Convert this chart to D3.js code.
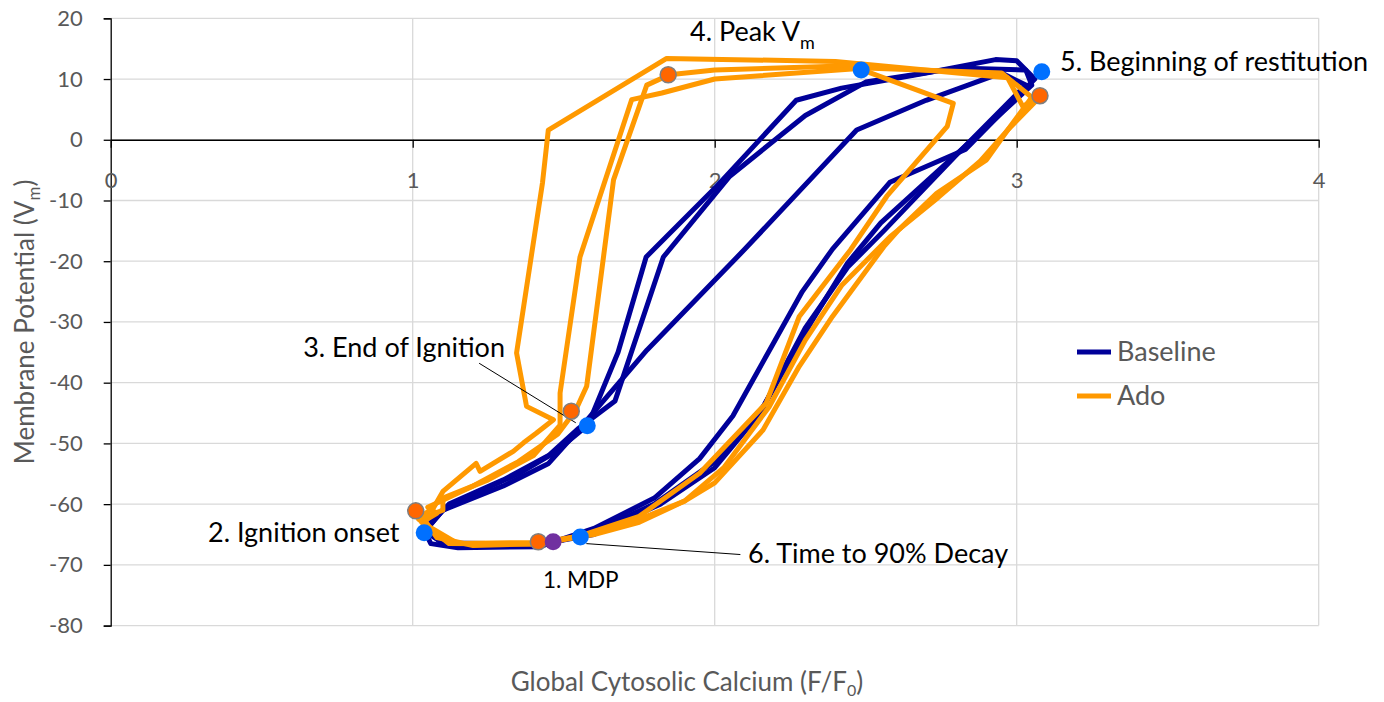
<!DOCTYPE html>
<html>
<head>
<meta charset="utf-8">
<script src="https://cdn.jsdelivr.net/npm/d3@7"></script>
<style>
  body { margin: 0; background: #fff; }
  text { font-family: Lato, "Open Sans", sans-serif; }
</style>
</head>
<body>
<div class="viz"></div>
<script>
// axis ticks
var xTicks = [0, 1, 2, 3, 4];
var yTicks = [20, 10, 0, -10, -20, -30, -40, -50, -60, -70, -80];

// Baseline loops (F/F0, Vm)
var baselineLoop1 = [[1.42,-67],[1.15,-67.2],[1.06,-66.5],[1.04,-64.5],[1.1,-61],[1.18,-58.8],[1.35,-55],[1.47,-51.5],[1.58,-47],[1.68,-35],[1.773,-19.3],[2.0,-8],[2.27,6.5],[2.42,8.5],[2.7,11],[2.93,13.2],[3.0,13],[3.06,10],[3.0,7],[2.83,-1.6],[2.58,-7],[2.39,-18],[2.29,-25],[2.2,-33],[2.06,-45.5],[1.95,-52.5],[1.8,-59],[1.6,-64],[1.42,-67]];
var baselineLoop2 = [[1.43,-66.8],[1.1,-66.6],[1.04,-64],[1.12,-60],[1.3,-56],[1.45,-52],[1.55,-47.5],[1.67,-43],[1.83,-19.3],[2.05,-6],[2.3,4],[2.5,9.5],[2.8,11.8],[3.03,11.5],[3.05,9],[2.82,-1.5],[2.55,-13.7],[2.44,-20.3],[2.32,-30],[2.16,-44],[2.0,-53],[1.8,-60],[1.6,-64.5],[1.43,-66.8]];
var baselineLoop3 = [[1.42,-66.6],[1.1,-66.4],[1.04,-64.5],[1.1,-61],[1.3,-57],[1.45,-53.3],[1.54,-48.3],[1.776,-34.6],[2.1,-18],[2.47,1.6],[2.7,6.5],[2.95,11],[3.03,9],[2.8,-2.5],[2.56,-15],[2.44,-21],[2.3,-31],[2.15,-45],[2.0,-54],[1.82,-60],[1.6,-65],[1.42,-66.6]];

// Ado loops
var adoLoop1 = [[1.42,-66.5],[1.2,-66.8],[1.08,-65.5],[1.03,-62],[1.07,-60.5],[1.1,-57.9],[1.21,-53.3],[1.223,-54.6],[1.333,-51.3],[1.367,-49.9],[1.41,-48.3],[1.466,-46.1],[1.377,-43.9],[1.344,-35.1],[1.43,-7],[1.449,1.6],[1.841,13.4],[2.4,12.9],[2.97,10.2],[3.02,5.5],[3.08,7.2],[2.97,1.6],[2.9,-3.3],[2.735,-8.8],[2.61,-14.8],[2.56,-17.6],[2.39,-29.1],[2.28,-37.3],[2.16,-47.8],[2.0,-56.5],[1.9,-59.5],[1.75,-63],[1.6,-65],[1.42,-66.5]];
var adoLoop2 = [[1.42,-66.3],[1.15,-66.5],[1.03,-63],[1.08,-61.5],[1.05,-60.5],[1.2,-57],[1.35,-53],[1.48,-48.5],[1.54,-44.5],[1.576,-40.6],[1.665,-6.6],[1.775,9.0],[1.85,10.7],[2.0,11.5],[2.45,12.2],[2.79,6],[2.77,2.2],[2.57,-9.3],[2.45,-18.1],[2.28,-29.1],[2.17,-43.4],[1.95,-54.9],[1.75,-62],[1.55,-65.3],[1.42,-66.3]];
var adoLoop3 = [[1.43,-66.6],[1.12,-66.5],[1.02,-62.5],[1.1,-61],[1.1,-59],[1.25,-56],[1.4,-52],[1.488,-47],[1.488,-41.7],[1.554,-19.3],[1.725,6.6],[1.825,7.7],[2.0,10],[2.5,11.8],[2.95,11],[3.05,7],[2.97,1.6],[2.88,-3.5],[2.74,-9.5],[2.58,-16],[2.42,-24],[2.3,-33],[2.18,-44],[2.03,-54],[1.9,-59.5],[1.7,-63.5],[1.43,-66.6]];

var baselineLoops = [baselineLoop1, baselineLoop2, baselineLoop3];
var adoLoops = [adoLoop1, adoLoop2, adoLoop3];

// event markers
var baselineMarkers = [[1.038,-64.7],[1.578,-47.1],[2.485,11.5],[3.083,11.2],[1.555,-65.4]];
var adoMarkers = [[1.416,-66.2],[1.01,-61.1],[1.525,-44.7],[1.846,10.7],[3.077,7.25]];
var mdpMarkers = [[1.465,-66.2]];

var margin = { top: 18.3, right: 65.3, bottom: 76.4, left: 110.7 };
var width = 1384, height = 702;
var innerW = width - margin.left - margin.right;
var innerH = height - margin.top - margin.bottom;

var svg = d3.select(".viz").append("svg").attr("width", width).attr("height", height);
var g = svg.append("g").attr("transform", "translate(" + margin.left + "," + margin.top + ")");

var x = d3.scaleLinear().domain([0, 4]).range([0, innerW]);
var y = d3.scaleLinear().domain([-80, 20]).range([innerH, 0]);

// gridlines
g.selectAll("line.hgrid").data(yTicks).enter().append("line")
  .attr("class", "hgrid")
  .attr("x1", 0).attr("x2", innerW)
  .attr("y1", d => y(d)).attr("y2", d => y(d))
  .attr("stroke", "#d9d9d9").attr("stroke-width", 1.3);
g.selectAll("line.vgrid").data(xTicks.slice(1)).enter().append("line")
  .attr("class", "vgrid")
  .attr("y1", 0).attr("y2", innerH)
  .attr("x1", d => x(d)).attr("x2", d => x(d))
  .attr("stroke", "#d9d9d9").attr("stroke-width", 1.3);

// y axis
var yAxis = g.append("g")
  .call(d3.axisLeft(y).tickValues(yTicks).tickFormat(d => String(d)).tickSize(7).tickPadding(21));
yAxis.select(".domain").attr("stroke", "#000").attr("stroke-width", 1.3);
yAxis.selectAll(".tick line").attr("stroke", "#000").attr("stroke-width", 1.3);
yAxis.selectAll(".tick text").attr("fill", "#595959").style("font-size", "22px");

// x axis at Vm = 0
var xAxis = g.append("g")
  .attr("transform", "translate(0," + y(0) + ")")
  .call(d3.axisBottom(x).tickValues(xTicks).tickFormat(d => String(d)).tickSize(8).tickSizeOuter(0).tickPadding(40));
xAxis.select(".domain").attr("stroke", "#000").attr("stroke-width", 1.3);
xAxis.selectAll(".tick line").attr("stroke", "#000").attr("stroke-width", 1.3);
xAxis.selectAll(".tick text").attr("fill", "#595959").style("font-size", "22px").attr("dy", "0");

var line = d3.line().x(d => x(d[0])).y(d => y(d[1]));

g.selectAll("path.base").data(baselineLoops).enter().append("path")
  .attr("class", "base")
  .attr("d", line)
  .attr("fill", "none").attr("stroke", "#000099").attr("stroke-width", 5).attr("stroke-linejoin", "round");
g.selectAll("path.ado").data(adoLoops).enter().append("path")
  .attr("class", "ado")
  .attr("d", line)
  .attr("fill", "none").attr("stroke", "#ff9900").attr("stroke-width", 5).attr("stroke-linejoin", "round");

// leader lines
function leader(x1, y1, x2, y2) {
  g.append("line")
    .attr("x1", x(x1)).attr("y1", y(y1)).attr("x2", x(x2)).attr("y2", y(y2))
    .attr("stroke", "#000").attr("stroke-width", 1);
}
leader(1.22, -36.8, 1.54, -46.6);
leader(1.575, -66.5, 2.085, -68.3);

g.selectAll("circle.bm").data(baselineMarkers).enter().append("circle")
  .attr("class", "bm")
  .attr("cx", d => x(d[0])).attr("cy", d => y(d[1])).attr("r", 8.5)
  .attr("fill", "#0070ff");
g.selectAll("circle.am").data(adoMarkers).enter().append("circle")
  .attr("class", "am")
  .attr("cx", d => x(d[0])).attr("cy", d => y(d[1])).attr("r", 8)
  .attr("fill", "#ff6600").attr("stroke", "#7f7f7f").attr("stroke-width", 1.5);
g.selectAll("circle.mm").data(mdpMarkers).enter().append("circle")
  .attr("class", "mm")
  .attr("cx", d => x(d[0])).attr("cy", d => y(d[1])).attr("r", 8.5)
  .attr("fill", "#7030a0");

// annotations
function note(px, py, txt, anchor, size) {
  return svg.append("text")
    .attr("x", px).attr("y", py)
    .attr("text-anchor", anchor || "start")
    .style("font-size", (size || 27) + "px")
    .attr("fill", "#000")
    .text(txt);
}
var peak = note(690, 41, "4. Peak V");
peak.append("tspan").attr("dy", 8).style("font-size", "18px").text("m");
note(1060, 71, "5. Beginning of restitution");
note(505, 357, "3. End of Ignition", "end");
note(208, 542, "2. Ignition onset");
note(748, 563, "6. Time to 90% Decay");
note(543, 588, "1. MDP", "start", 22.5);

// axis titles
var yt = svg.append("text")
  .attr("transform", "translate(34," + (margin.top + innerH / 2) + ") rotate(-90)")
  .attr("text-anchor", "middle")
  .attr("fill", "#595959").style("font-size", "26px")
  .text("Membrane Potential (V");
yt.append("tspan").attr("dy", 6).style("font-size", "17px").text("m");
yt.append("tspan").attr("dy", -6).text(")");

var xt = svg.append("text")
  .attr("x", 687).attr("y", 691)
  .attr("text-anchor", "middle")
  .attr("fill", "#595959").style("font-size", "26px")
  .text("Global Cytosolic Calcium (F/F");
xt.append("tspan").attr("dy", 5).style("font-size", "16px").text("0");
xt.append("tspan").attr("dy", -5).text(")");

// legend
var legendItems = [{ name: "Baseline", color: "#000099" }, { name: "Ado", color: "#ff9900" }];
var legend = svg.selectAll("g.legend").data(legendItems).enter().append("g")
  .attr("class", "legend")
  .attr("transform", (d, i) => "translate(1077," + (352 + i * 44) + ")");
legend.append("line").attr("x1", 0).attr("x2", 34).attr("y1", 0).attr("y2", 0)
  .attr("stroke", d => d.color).attr("stroke-width", 5);
legend.append("text").attr("x", 40).attr("y", 9)
  .attr("fill", "#595959").style("font-size", "27px")
  .text(d => d.name);
</script>
</body>
</html>
